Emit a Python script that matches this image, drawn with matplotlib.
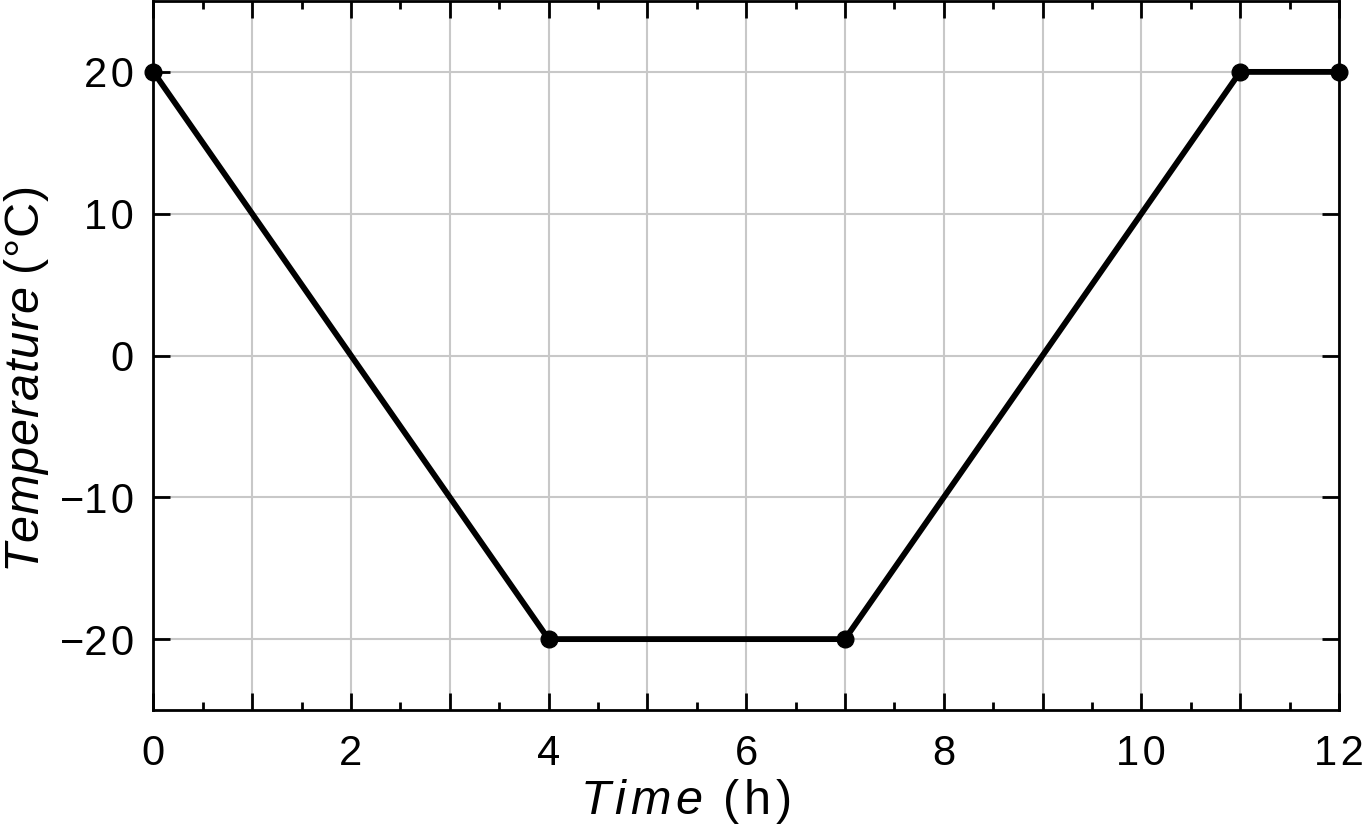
import numpy as np
import matplotlib.pyplot as plt

plt.rcParams['font.family'] = ['Liberation Sans', 'DejaVu Sans']
plt.rcParams['mathtext.fontset'] = 'custom'
plt.rcParams['mathtext.rm'] = 'Liberation Sans'
plt.rcParams['mathtext.it'] = 'Liberation Sans:italic'

# temperature profile (h, degC)
time_h = [0, 4, 7, 11, 12]
temp_c = [20, -20, -20, 20, 20]
xtick_vals = list(range(0, 13))
ytick_vals = [-20, -10, 0, 10, 20]


def spaced(word, style, sp):
    # letter-spaced mathtext, the original uses wide tracking
    parts = [r'\math%s{%s}' % (style, c) for c in word]
    return (r'\hspace{%.2f}' % sp).join(parts)


def tick_txt(v):
    s = str(abs(v))
    s = '\u200a'.join(s)
    return ('\u2212' + s) if v < 0 else s


fig = plt.figure(figsize=(13.66, 8.31), dpi=100)
ax = fig.add_axes([0.1123, 0.1456, 0.8679, 0.8532])

ax.plot(time_h, temp_c, color='black', lw=4.2, marker='o', ms=12,
        clip_on=False, zorder=5)

ax.set_xlim(0, 12)
ax.set_ylim(-25, 25)
ax.set_xticks(xtick_vals)
ax.set_xticklabels([tick_txt(v) if v % 2 == 0 else '' for v in xtick_vals])
ax.set_xticks(np.arange(0.5, 12, 1), minor=True)
ax.set_yticks(ytick_vals)
ax.set_yticklabels([tick_txt(v) for v in ytick_vals])

ax.grid(True, which='major', color='#c8c8c8', lw=1.5)
ax.set_axisbelow(True)

ax.tick_params(which='both', direction='in', top=True, right=True,
               labelsize=30, width=2, pad=14)
ax.tick_params(axis='x', which='both', pad=17)
ax.tick_params(which='major', length=12)
ax.tick_params(which='minor', length=6)
for s in ax.spines.values():
    s.set_linewidth(2)

xl = '$' + spaced('Time', 'it', 0.12) + r'\hspace{0.5}' + spaced('(h)', 'rm', 0.12) + '$'
yl = '$' + spaced('Temperature', 'it', 0.02) + r'\hspace{0.3}' + spaced('(°C)', 'rm', 0.02) + '$'
ax.set_xlabel(xl, fontsize=35)
ax.set_ylabel(yl, fontsize=35)
ax.xaxis.set_label_coords(0.449, -0.094)
ax.yaxis.set_label_coords(-0.086, 0.466)

fig.savefig('out.png', dpi=100)
